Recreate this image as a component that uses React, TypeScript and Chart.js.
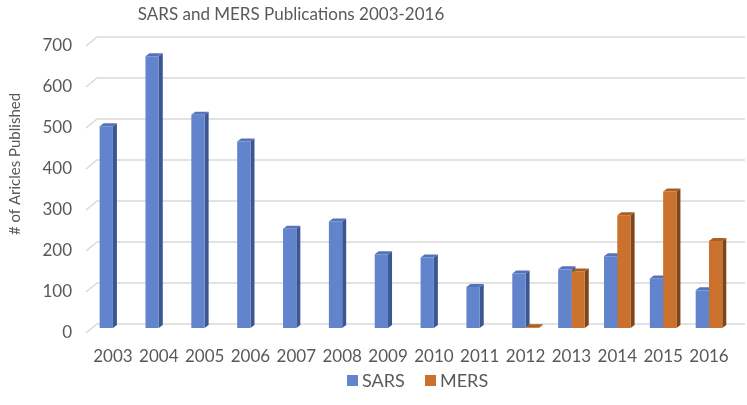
import React, { useEffect, useRef } from "react";
import { Chart, registerables } from "chart.js";

Chart.register(...registerables);

const TITLE = "SARS and MERS Publications 2003-2016";
const Y_TITLE = "# of Aricles Published";
const YEARS = ["2003", "2004", "2005", "2006", "2007", "2008", "2009", "2010", "2011", "2012", "2013", "2014", "2015", "2016"];
const SARS = [492, 663, 520, 455, 242, 260, 180, 172, 100, 133, 143, 175, 121, 92];
const MERS = [null, null, null, null, null, null, null, null, null, 2, 138, 275, 333, 212];
const Y_MIN = 0;
const Y_MAX = 700;
const Y_STEP = 100;

const FONT = "Lato";
const TEXT = "#595959";
const FACES = [
  { front: "#6284CD", side: "#3C5692", top: "#5473BA" },
  { front: "#C9712D", side: "#7F4418", top: "#A95E22" },
];

const threeD = {
  id: "threeD",
  beforeDatasetsDraw(chart: any) {
    const { ctx, chartArea } = chart;
    const ys = chart.scales.y;
    ctx.save();
    ctx.strokeStyle = "#D9D9D9";
    ctx.lineWidth = 1.5;
    ys.ticks.forEach((t: any) => {
      const py = ys.getPixelForValue(t.value);
      ctx.beginPath();
      ctx.moveTo(chartArea.left - 4, py + 5);
      ctx.lineTo(chartArea.left + 7, py - 4);
      ctx.lineTo(chart.width - 2, py - 4);
      ctx.stroke();
    });
    const dx = 4;
    const dy = 3;
    chart.data.datasets.forEach((ds: any, i: number) => {
      const meta = chart.getDatasetMeta(i);
      meta.data.forEach((bar: any, j: number) => {
        if (ds.data[j] == null) return;
        const { x, y, base, width } = bar.getProps(["x", "y", "base", "width"], true);
        const l = x - width / 2;
        const r = x + width / 2;
        ctx.fillStyle = FACES[i].side;
        ctx.beginPath();
        ctx.moveTo(r, y);
        ctx.lineTo(r + dx, y - dy);
        ctx.lineTo(r + dx, base - dy);
        ctx.lineTo(r, base);
        ctx.closePath();
        ctx.fill();
        ctx.fillStyle = FACES[i].top;
        ctx.beginPath();
        ctx.moveTo(l, y);
        ctx.lineTo(l + dx, y - dy);
        ctx.lineTo(r + dx, y - dy);
        ctx.lineTo(r, y);
        ctx.closePath();
        ctx.fill();
      });
    });
    ctx.restore();
  },
  afterDraw(chart: any) {
    const { ctx } = chart;
    ctx.save();
    ctx.fillStyle = TEXT;
    ctx.textBaseline = "middle";
    ctx.textAlign = "center";
    ctx.font = `17px ${FONT}`;
    ctx.fillText(TITLE, 291, 15);
    ctx.save();
    ctx.translate(15, 164);
    ctx.rotate(-Math.PI / 2);
    ctx.font = `15px ${FONT}`;
    ctx.fillText(Y_TITLE, 0, 0);
    ctx.restore();
    ctx.font = `18px ${FONT}`;
    ctx.textAlign = "left";
    const items = [
      { label: "SARS", color: FACES[0].front, x: 347 },
      { label: "MERS", color: FACES[1].front, x: 425 },
    ];
    items.forEach((it) => {
      ctx.fillStyle = it.color;
      ctx.fillRect(it.x, 375, 11, 11);
      ctx.fillStyle = TEXT;
      ctx.fillText(it.label, it.x + 15, 381);
    });
    ctx.restore();
  },
};

export default function App() {
  const ref = useRef<HTMLCanvasElement>(null);
  useEffect(() => {
    document.body.style.margin = "0";
    const chart = new Chart(ref.current as HTMLCanvasElement, {
      type: "bar",
      data: {
        labels: YEARS,
        datasets: [
          { label: "SARS", data: SARS, backgroundColor: FACES[0].front, borderWidth: 0 },
          { label: "MERS", data: MERS as any, backgroundColor: FACES[1].front, borderWidth: 0 },
        ],
      },
      options: {
        responsive: false,
        animation: false,
        layout: { padding: { left: 0, right: 8, top: 41, bottom: 0 } },
        datasets: { bar: { categoryPercentage: 0.58, barPercentage: 1 } },
        plugins: {
          legend: { display: false },
          title: { display: false },
          tooltip: { enabled: false },
        },
        scales: {
          x: {
            grid: { display: false, drawTicks: false },
            border: { display: false },
            ticks: { font: { family: FONT, size: 17 }, color: TEXT, padding: 18, maxRotation: 0, autoSkip: false },
            afterFit: (s: any) => {
              s.height = 77;
            },
          },
          y: {
            min: Y_MIN,
            max: Y_MAX,
            grid: { display: false, drawTicks: false },
            border: { display: false },
            ticks: { stepSize: Y_STEP, padding: 18, labelOffset: 5, font: { family: FONT, size: 17 }, color: TEXT },
            afterFit: (s: any) => {
              s.width = 90;
            },
          },
        },
      },
      plugins: [threeD],
    });
    return () => chart.destroy();
  }, []);
  return (
    <div style={{ position: "absolute", left: 0, top: 0 }}>
      <canvas ref={ref} width={747} height={405} style={{ display: "block" }} />
    </div>
  );
}
